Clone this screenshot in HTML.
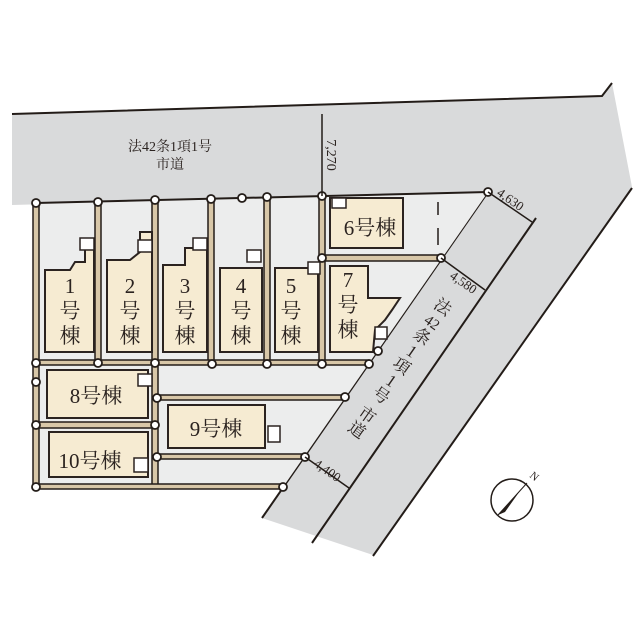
<!DOCTYPE html>
<html><head><meta charset="utf-8"><style>
html,body{margin:0;padding:0;background:#fff}
svg{display:block}
text{font-family:"Liberation Serif","Noto Serif CJK SC","Noto Sans CJK JP",serif;fill:#2b2320}
</style></head><body>
<svg width="640" height="640" viewBox="0 0 640 640" xmlns="http://www.w3.org/2000/svg">
<polygon points="12,114 602,96 612,83 632,187 373,555 262,518 488,192 12,205" fill="#d9dadb"/>
<polyline points="12,114 602,96 612,83" fill="none" stroke="#231c18" stroke-width="2"/>
<line x1="632" y1="188" x2="373" y2="556" stroke="#231c18" stroke-width="2"/>
<line x1="536" y1="218" x2="312" y2="543" stroke="#231c18" stroke-width="2"/>
<line x1="488" y1="192" x2="262" y2="518" stroke="#231c18" stroke-width="2"/>
<polygon points="36,203 488,192 283,487 36,487" fill="#eceded"/>
<line x1="36" y1="203" x2="488" y2="192" stroke="#231c18" stroke-width="2"/>
<g fill="#d8c7a8" stroke="#231c18" stroke-width="1.5">
<rect x="33" y="203" width="6" height="284"/>
<rect x="95" y="201" width="6" height="162"/>
<rect x="152" y="200" width="6" height="287"/>
<rect x="208" y="199" width="6" height="165"/>
<rect x="264" y="198" width="6" height="166"/>
<rect x="319" y="196" width="6" height="168"/>
<rect x="36" y="360" width="333" height="5"/>
<rect x="36" y="422" width="119" height="6"/>
<rect x="155" y="395" width="190" height="5"/>
<rect x="155" y="454" width="150" height="5"/>
<rect x="36" y="484" width="247" height="5"/>
<rect x="322" y="255" width="119" height="6"/>
</g>
<g fill="#f6ebd2" stroke="#2b2320" stroke-width="2">
<polygon points="45,270 70,270 75,262 85,262 85,248 94,248 94,352 45,352"/>
<polygon points="107,260 130,260 140,252 140,232 152,232 152,352 107,352"/>
<polygon points="163,265 185,265 185,248 207,248 207,352 163,352"/>
<polygon points="220,268 262,268 262,352 220,352"/>
<polygon points="275,268 318,268 318,352 275,352"/>
<rect x="330" y="198" width="73" height="50"/>
<polygon points="330,266 368,266 368,298 400,298 392,310 385,320 375,330 373,352 330,352"/>
<rect x="47" y="370" width="101" height="48"/>
<rect x="168" y="405" width="97" height="43"/>
<rect x="49" y="432" width="99" height="45"/>
</g>
<g fill="#fff" stroke="#2b2320" stroke-width="1.5">
<rect x="80" y="238" width="14" height="12"/><rect x="138" y="240" width="14" height="12"/>
<rect x="193" y="238" width="14" height="12"/><rect x="247" y="250" width="14" height="12"/>
<rect x="308" y="262" width="12" height="12"/><rect x="332" y="198" width="14" height="10"/>
<rect x="138" y="374" width="14" height="12"/><rect x="134" y="458" width="14" height="14"/>
<rect x="268" y="426" width="12" height="16"/><rect x="375" y="327" width="12" height="12"/>
</g>
<g fill="#fff" stroke="#231c18" stroke-width="1.8">
<circle cx="36" cy="203" r="4"/><circle cx="98" cy="202" r="4"/><circle cx="155" cy="200" r="4"/>
<circle cx="211" cy="199" r="4"/><circle cx="242" cy="198" r="4"/><circle cx="267" cy="197" r="4"/>
<circle cx="322" cy="196" r="4"/><circle cx="488" cy="192" r="4"/><circle cx="322" cy="258" r="4"/>
<circle cx="441" cy="258" r="4"/><circle cx="36" cy="363" r="4"/><circle cx="98" cy="363" r="4"/>
<circle cx="155" cy="363" r="4"/><circle cx="212" cy="364" r="4"/><circle cx="267" cy="364" r="4"/>
<circle cx="322" cy="364" r="4"/><circle cx="369" cy="364" r="4"/><circle cx="378" cy="351" r="4"/>
<circle cx="36" cy="382" r="4"/><circle cx="36" cy="425" r="4"/><circle cx="155" cy="425" r="4"/>
<circle cx="157" cy="398" r="4"/><circle cx="345" cy="397" r="4"/><circle cx="157" cy="457" r="4"/>
<circle cx="305" cy="457" r="4"/><circle cx="36" cy="487" r="4"/><circle cx="283" cy="487" r="4"/>
</g>
<g stroke="#231c18" stroke-width="1.5" fill="none">
<line x1="322" y1="114" x2="322" y2="196"/>
<line x1="488" y1="192" x2="532" y2="222"/>
<line x1="441" y1="258" x2="485" y2="290"/>
<line x1="305" y1="457" x2="349" y2="488"/>
<line x1="438" y1="202" x2="438" y2="215"/><line x1="438" y1="228" x2="438" y2="245"/>
</g>
<text x="170" y="151" font-size="14" text-anchor="middle">法42条1項1号</text>
<text x="170" y="169" font-size="14" text-anchor="middle">市道</text>
<text transform="translate(327,155) rotate(90)" font-size="14" text-anchor="middle">7,270</text>
<text transform="translate(508,203) rotate(35)" font-size="13" text-anchor="middle">4,630</text>
<text transform="translate(461,286) rotate(35)" font-size="13" text-anchor="middle">4,580</text>
<text transform="translate(325,474) rotate(35)" font-size="13" text-anchor="middle">4,400</text>
<g transform="translate(431,324) rotate(35)" font-size="17">
<text x="0" y="-15" text-anchor="middle">法</text>
<text x="0" y="3" text-anchor="middle" font-size="15">42</text>
<text x="0" y="21" text-anchor="middle">条</text>
<text x="0" y="39" text-anchor="middle">1</text>
<text x="0" y="57" text-anchor="middle">項</text>
<text x="0" y="75" text-anchor="middle">1</text>
<text x="0" y="93" text-anchor="middle">号</text>
<text x="0" y="117" text-anchor="middle">市</text>
<text x="0" y="135" text-anchor="middle">道</text>
</g>
<g font-size="21" text-anchor="middle">
<text x="70" y="293">1</text><text x="70" y="318">号</text><text x="70" y="343">棟</text>
<text x="130" y="293">2</text><text x="130" y="318">号</text><text x="130" y="343">棟</text>
<text x="185" y="293">3</text><text x="185" y="318">号</text><text x="185" y="343">棟</text>
<text x="241" y="293">4</text><text x="241" y="318">号</text><text x="241" y="343">棟</text>
<text x="291" y="293">5</text><text x="291" y="318">号</text><text x="291" y="343">棟</text>
<text x="348" y="287">7</text><text x="348" y="312">号</text><text x="348" y="337">棟</text>
<text x="370" y="235">6号棟</text>
<text x="96" y="403">8号棟</text>
<text x="216" y="436">9号棟</text>
<text x="90" y="468">10号棟</text>
</g>
<circle cx="512" cy="500" r="21" fill="none" stroke="#231c18" stroke-width="1.5"/>
<polygon points="498,515 522,488 505,512" fill="#231c18"/>
<line x1="498" y1="515" x2="527" y2="483" stroke="#231c18" stroke-width="1"/>
<text transform="translate(532,479) rotate(40)" font-size="11" text-anchor="middle" font-family="Liberation Sans,sans-serif">N</text>
</svg>
</body></html>
